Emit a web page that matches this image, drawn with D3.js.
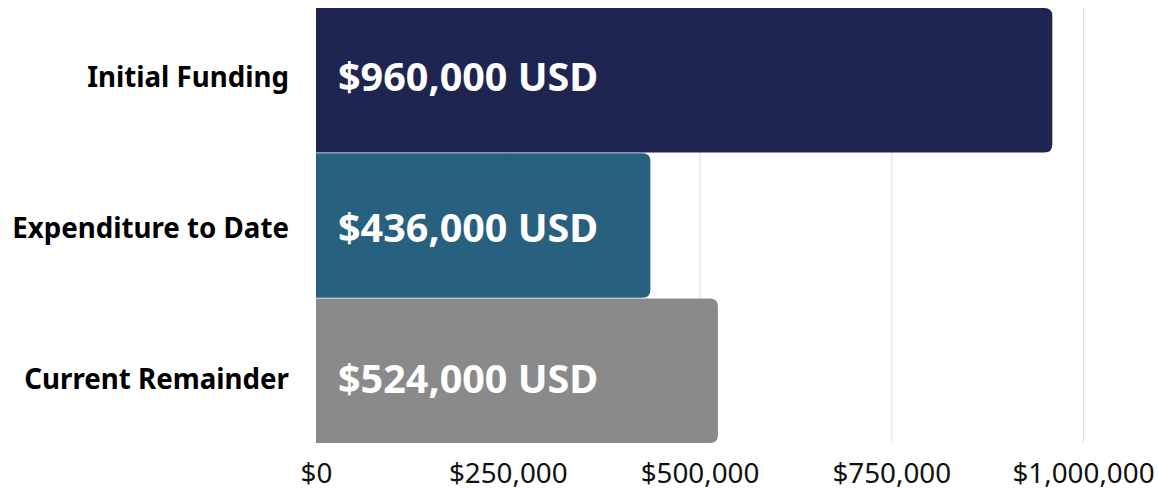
<!DOCTYPE html>
<html>
<head>
<meta charset="utf-8">
<script src="https://cdn.jsdelivr.net/npm/d3@7"></script>
<style>
  body { margin: 0; background: #fff; font-family: 'Noto Sans', sans-serif; }
  svg { display: block; }
</style>
</head>
<body>
<div id="chart"></div>
<script>
const CATEGORIES = ['Initial Funding', 'Expenditure to Date', 'Current Remainder'],
      VALUES = [960000, 436000, 524000],
      COLORS = ['#1F2551', '#28607F', '#8A8A8A'],
      TICKS = [0, 250000, 500000, 750000, 1000000]

const SIZE = Object.freeze({ WIDTH: 1158, HEIGHT: 488 }),
      PADDING = Object.freeze({ TOP: 8, RIGHT: 75, BOTTOM: 45, LEFT: 316 }),
      RADIUS = 8

const data = CATEGORIES.map((c, i) => ({ category: c, value: VALUES[i], color: COLORS[i] }))

const xScale = d3.scaleLinear()
  .domain([0, 1000000])
  .range([PADDING.LEFT, SIZE.WIDTH - PADDING.RIGHT])

const yScale = d3.scaleBand()
  .domain(CATEGORIES)
  .range([PADDING.TOP, SIZE.HEIGHT - PADDING.BOTTOM])
  .paddingInner(0.005)

// labels sit on a slightly wider spacing than the bars
const labelScale = d3.scalePoint()
  .domain(CATEGORIES)
  .range([PADDING.TOP + 69, SIZE.HEIGHT - PADDING.BOTTOM - 64])

const svg = d3.select('#chart')
  .append('svg')
  .attr('width', SIZE.WIDTH)
  .attr('height', SIZE.HEIGHT)

// grid
svg.append('g')
  .selectAll('line')
  .data(TICKS.slice(1))
  .enter()
  .append('line')
  .attr('x1', d => xScale(d) + 0.5)
  .attr('x2', d => xScale(d) + 0.5)
  .attr('y1', PADDING.TOP)
  .attr('y2', SIZE.HEIGHT - PADDING.BOTTOM)
  .attr('stroke', '#dcdcdc')
  .attr('stroke-width', 1)

// bars, rounded on the right side only
const barPath = (d) => {
  const x0 = xScale(0), x1 = xScale(d.value),
        y0 = yScale(d.category), y1 = y0 + yScale.bandwidth(),
        r = RADIUS
  return `M${x0},${y0}H${x1 - r}Q${x1},${y0} ${x1},${y0 + r}V${y1 - r}Q${x1},${y1} ${x1 - r},${y1}H${x0}Z`
}

svg.append('g')
  .selectAll('path')
  .data(data)
  .enter()
  .append('path')
  .attr('d', barPath)
  .attr('fill', d => d.color)

svg.append('g')
  .selectAll('text')
  .data(data)
  .enter()
  .append('text')
  .attr('x', xScale(0) + 22)
  .attr('y', d => labelScale(d.category))
  .attr('dy', '0.36em')
  .attr('fill', '#fff')
  .style('font-size', '39.5px')
  .style('font-weight', 700)
  .text(d => `${d3.format('$,')(d.value)} USD`)

// category labels
svg.append('g')
  .selectAll('text')
  .data(CATEGORIES)
  .enter()
  .append('text')
  .attr('x', PADDING.LEFT - 27)
  .attr('y', d => labelScale(d))
  .attr('dy', '0.36em')
  .attr('text-anchor', 'end')
  .attr('fill', '#000')
  .style('font-size', '27.7px')
  .style('font-weight', 700)
  .text(d => d)

// value axis
const xAxis = d3.axisBottom(xScale).tickValues(TICKS).tickSize(0).tickPadding(20).tickFormat(d3.format('$,'))
svg.append('g')
  .attr('transform', `translate(0, ${SIZE.HEIGHT - PADDING.BOTTOM})`)
  .call(xAxis)
  .call(g => g.select('.domain').remove())
  .call(g => g.selectAll('text')
    .attr('fill', '#111')
    .style('font-family', "'Noto Sans', sans-serif")
    .style('font-size', '27.8px'))
</script>
</body>
</html>
